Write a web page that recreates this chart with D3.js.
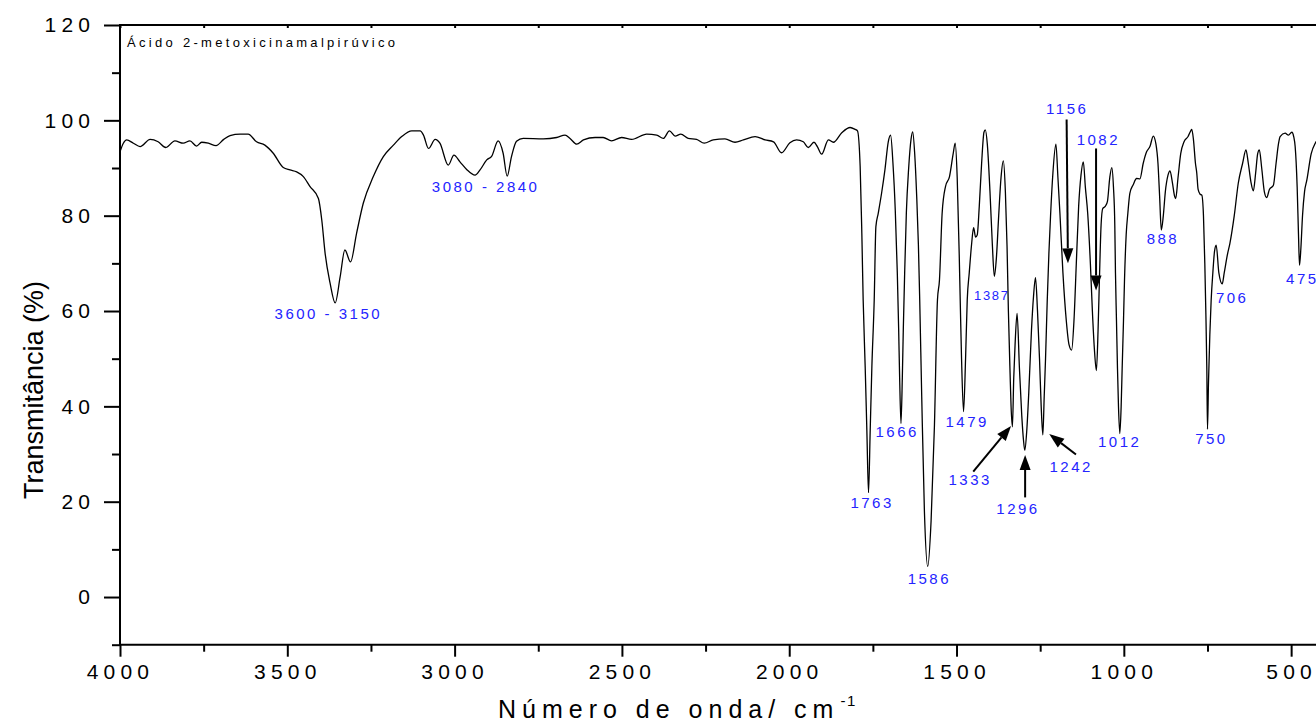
<!DOCTYPE html>
<html>
<head>
<meta charset="utf-8">
<script src="https://cdn.jsdelivr.net/npm/d3@7"></script>
<style>
  html, body { margin: 0; padding: 0; background: #fff; }
  svg { display: block; }
  text { font-family: "Liberation Sans", Arial, sans-serif; }
</style>
</head>
<body>
<svg id="chart" width="1316" height="724"></svg>
<script>
// IR spectrum of ácido 2-metoxicinamalpirúvico (transmittance vs wavenumber)
const wavenumber = [
  4000, 3990, 3980, 3960, 3940, 3910, 3886, 3863, 3836, 3811, 3791, 3771, 3756, 3736, 3713, 3690,
  3671, 3641, 3617, 3592, 3567, 3542, 3512, 3492, 3472, 3452, 3432, 3407, 3397, 3387, 3372, 3357,
  3342, 3328, 3311, 3293, 3273, 3243, 3213, 3183, 3158, 3128, 3103, 3093, 3078, 3058, 3044, 3019,
  3002, 2984, 2964, 2939, 2924, 2904, 2889, 2870, 2855, 2843, 2830, 2815, 2795, 2735, 2695, 2670,
  2655, 2635, 2615, 2580, 2556, 2531, 2501, 2471, 2426, 2396, 2376, 2358, 2341, 2324, 2302, 2277,
  2254, 2227, 2192, 2162, 2137, 2102, 2072, 2047, 2023, 1998, 1978, 1958, 1943, 1926, 1916, 1903,
  1883, 1868, 1843, 1818, 1803, 1796, 1788, 1783, 1779, 1773, 1768, 1763, 1758, 1753, 1746, 1741,
  1734, 1724, 1714, 1704, 1697, 1690, 1683, 1677, 1673, 1670, 1666, 1662, 1659, 1655, 1650, 1643,
  1636, 1631, 1625, 1619, 1614, 1610, 1604, 1596, 1586, 1576, 1566, 1557, 1551, 1543, 1533, 1521,
  1510, 1504, 1498, 1492, 1489, 1485, 1479, 1473, 1468, 1462, 1455, 1449, 1443, 1438, 1432, 1425,
  1418, 1414, 1408, 1400, 1393, 1387, 1381, 1374, 1367, 1360, 1354, 1349, 1345, 1340, 1337, 1333,
  1329, 1325, 1319, 1312, 1305, 1300, 1296, 1290, 1284, 1276, 1270, 1264, 1258, 1252, 1247, 1242,
  1238, 1234, 1229, 1224, 1219, 1212, 1203, 1197, 1191, 1182, 1172, 1164, 1156, 1149, 1142, 1135,
  1128, 1121, 1115, 1108, 1100, 1094, 1088, 1082, 1077, 1073, 1068, 1063, 1055, 1049, 1042, 1036,
  1031, 1027, 1025, 1022, 1019, 1016, 1012, 1008, 1005, 1001, 998, 993, 988, 982, 972, 962,
  952, 942, 932, 922, 912, 904, 898, 893, 888, 882, 876, 868, 862, 855, 848, 845,
  838, 830, 820, 808, 800, 797, 792, 786, 782, 778, 772, 767, 762, 758, 755, 752,
  750, 747, 743, 739, 734, 729, 724, 716, 706, 700, 690, 683, 670, 658, 645, 635,
  628, 620, 613, 606, 600, 595, 588, 580, 573, 565, 553, 545, 538, 533, 518, 508,
  498, 492, 488, 482, 478, 475, 471, 466, 460, 453, 440, 428, 415, 400
];
const transmittance = [
  93.4, 95.2, 95.9, 95.2, 94.5, 96.0, 95.5, 94.3, 95.7, 95.2, 95.7, 94.6, 95.4, 95.2, 94.7, 96.0,
  96.8, 97.1, 97.1, 95.5, 94.8, 93.1, 90.1, 89.6, 89.2, 88.2, 86.1, 83.6, 79.1, 72.1, 65.8, 61.7,
  67.2, 72.8, 70.3, 76.3, 82.6, 88.2, 92.4, 94.8, 96.6, 97.8, 97.8, 96.9, 94.1, 96.0, 95.2, 90.6,
  92.7, 91.3, 89.7, 88.5, 89.6, 91.7, 92.5, 95.7, 93.1, 88.3, 92.4, 95.6, 96.2, 96.1, 96.4, 96.9,
  96.2, 95.0, 95.9, 96.4, 96.4, 95.7, 96.4, 96.0, 97.1, 96.9, 96.2, 97.8, 96.7, 97.1, 96.2, 96.0,
  95.2, 95.9, 96.1, 95.4, 95.9, 96.6, 95.9, 95.5, 93.2, 95.3, 95.9, 95.5, 94.3, 95.4, 94.5, 92.9,
  95.9, 95.4, 97.4, 98.5, 98.1, 97.8, 90.3, 76.3, 62.3, 48.3, 35.0, 21.9, 35.0, 48.3, 62.3, 77.7,
  80.5, 84.7, 89.6, 95.5, 96.9, 91.0, 81.0, 68.0, 56.4, 46.0, 36.4, 46.0, 56.4, 68.0, 80.5, 90.0,
  96.0, 97.6, 93.0, 84.0, 74.0, 62.3, 42.0, 18.0, 6.4, 16.0, 36.0, 62.3, 66.5, 80.5, 86.1, 88.2,
  93.0, 95.2, 88.0, 72.0, 62.3, 50.0, 38.9, 50.0, 62.3, 68.0, 74.0, 77.5, 75.5, 76.0, 82.0, 91.0,
  97.5, 98.0, 95.0, 85.0, 74.0, 67.3, 71.0, 80.0, 88.0, 91.5, 85.0, 73.5, 60.0, 47.0, 40.0, 35.7,
  46.0, 53.0, 59.5, 48.0, 38.0, 33.0, 30.8, 35.0, 43.0, 56.0, 63.0, 67.0, 60.0, 50.0, 40.0, 34.0,
  42.0, 50.0, 62.0, 72.0, 80.0, 88.9, 95.0, 88.0, 80.5, 68.0, 58.0, 53.0, 51.8, 58.0, 70.0, 82.0,
  88.5, 91.3, 86.0, 80.5, 70.0, 60.0, 52.0, 47.5, 56.0, 66.5, 78.0, 81.5, 82.0, 83.0, 88.0, 90.1,
  86.0, 78.0, 68.0, 58.0, 48.0, 40.0, 34.3, 40.0, 48.0, 58.0, 66.5, 76.0, 80.5, 84.7, 86.5, 87.8,
  87.7, 91.0, 93.4, 94.5, 96.7, 95.0, 91.0, 84.0, 77.0, 80.0, 85.0, 88.5, 89.4, 87.0, 84.0, 83.6,
  88.0, 93.0, 95.5, 96.6, 97.8, 98.1, 96.0, 91.0, 88.9, 85.5, 84.5, 84.3, 80.0, 70.0, 60.0, 48.0,
  35.2, 45.0, 55.0, 62.3, 68.0, 72.5, 73.8, 68.0, 65.7, 68.0, 72.0, 74.2, 80.0, 86.8, 91.0, 93.8,
  91.0, 87.0, 85.2, 89.0, 93.0, 93.8, 90.0, 85.0, 83.8, 85.5, 86.4, 91.0, 95.0, 96.6, 97.3, 96.9,
  97.5, 96.5, 94.5, 86.0, 76.0, 69.6, 73.0, 80.0, 85.0, 87.5, 93.0, 95.2, 96.2, 96.5
];

const xMajorTicks = [4000, 3500, 3000, 2500, 2000, 1500, 1000, 500];
const xMinorTicks = [3750, 3250, 2750, 2250, 1750, 1250, 750];
const xTopTicks = d3.range(4000, 399, -250);
const yMajorTicks = [0, 20, 40, 60, 80, 100, 120];
const yMinorTicks = [-10, 10, 30, 50, 70, 90, 110];

const chartTitle = "Ácido 2-metoxicinamalpirúvico";
const xTitle = "Número de onda/ cm";
const xTitleSup = "-1";
const yTitle = "Transmitância (%)";

// band labels: text and the (wavenumber, %T) point where each label sits
const bandText = ["3600 - 3150", "3080 - 2840", "1763", "1666", "1586", "1479", "1387", "1333",
                  "1296", "1242", "1156", "1082", "1012", "888", "750", "706", "475"];
const bandAtWave = [3381, 2911, 1756, 1681, 1585, 1472, 1397, 1463,
                    1320, 1161, 1173, 1080, 1016, 887, 742, 680, 515];
const bandAtT = [58.3, 85.0, 18.7, 33.6, 2.7, 35.7, 62.3, 23.5,
                 17.4, 26.2, 101.3, 94.8, 31.5, 74.1, 32.1, 61.7, 65.7];

// arrows pointing at bands: [from wavenumber, from %T, to wavenumber, to %T]
const arrowFrom = [[1171, 100.2], [1083, 94.1], [1450, 26.3], [1295, 20.9], [1143, 29.9]];
const arrowTo   = [[1167, 70.0],  [1083, 64.3], [1337, 35.9], [1295, 29.8], [1223, 34.2]];

const svg = d3.select("#chart");
const x = d3.scaleLinear().domain([4000, 400]).range([120, 1324.6]);
const y = d3.scaleLinear().domain([-10, 120]).range([644.7, 25]);

const FONT = '"Liberation Sans", Arial, sans-serif';
const BLUE = "#2424ff";

// frame lines (left, bottom, top)
const frame = svg.append("g").attr("stroke", "#000").attr("stroke-width", 2).attr("stroke-linecap", "square");
frame.append("line").attr("x1", x(4000)).attr("x2", x(4000)).attr("y1", y(120)).attr("y2", y(-10));
frame.append("line").attr("x1", x(4000)).attr("x2", x(400)).attr("y1", y(-10)).attr("y2", y(-10));
frame.append("line").attr("x1", x(4000)).attr("x2", x(400)).attr("y1", y(120)).attr("y2", y(120));

function styleAxis(g) {
  g.select(".domain").remove();
  g.selectAll(".tick line").attr("stroke", "#000").attr("stroke-width", 2);
  g.attr("font-family", null).attr("font-size", null);
}

// bottom axis
const TICK_LS = 5.2;
svg.append("g").attr("transform", `translate(0,${y(-10)})`)
  .call(d3.axisBottom(x).tickValues(xMajorTicks).tickSize(12).tickPadding(7).tickFormat(d3.format("d")))
  .call(styleAxis)
  .call(g => g.selectAll("text")
    .attr("font-family", FONT).attr("font-size", 21).attr("fill", "#000")
    .style("letter-spacing", TICK_LS + "px"));
svg.append("g").attr("transform", `translate(0,${y(-10)})`)
  .call(d3.axisBottom(x).tickValues(xMinorTicks).tickSize(7).tickFormat(""))
  .call(styleAxis);

// top axis: short inward ticks
svg.append("g").attr("transform", `translate(0,${y(120)})`)
  .call(d3.axisBottom(x).tickValues(xTopTicks).tickSize(3).tickFormat(""))
  .call(styleAxis);

// left axis
svg.append("g").attr("transform", `translate(${x(4000)},0)`)
  .call(d3.axisLeft(y).tickValues(yMajorTicks).tickSize(16).tickPadding(14 - TICK_LS).tickFormat(d3.format("d")))
  .call(styleAxis)
  .call(g => g.selectAll("text")
    .attr("font-family", FONT).attr("font-size", 21).attr("fill", "#000")
    .style("letter-spacing", TICK_LS + "px"));
svg.append("g").attr("transform", `translate(${x(4000)},0)`)
  .call(d3.axisLeft(y).tickValues(yMinorTicks).tickSize(8).tickFormat(""))
  .call(styleAxis);

// spectrum trace
const points = d3.zip(wavenumber, transmittance);
svg.append("path")
  .datum(points)
  .attr("fill", "none")
  .attr("stroke", "#000")
  .attr("stroke-width", 1.3)
  .attr("stroke-linejoin", "round")
  .attr("d", d3.line().x(d => x(d[0])).y(d => y(d[1])).curve(d3.curveMonotoneX));

// chart title inside the frame
svg.append("text")
  .attr("x", 127).attr("y", 47)
  .attr("font-family", FONT).attr("font-size", 13).attr("fill", "#000")
  .style("letter-spacing", "3.3px")
  .text(chartTitle);

// axis titles
const xt = svg.append("text")
  .attr("x", 498).attr("y", 718)
  .attr("font-family", FONT).attr("font-size", 25).attr("fill", "#000")
  .style("letter-spacing", "6px")
  .text(xTitle);
const xtLen = xt.node().getComputedTextLength();
svg.append("text")
  .attr("x", 498 + xtLen + 1).attr("y", 706)
  .attr("font-family", FONT).attr("font-size", 15).attr("fill", "#000")
  .style("letter-spacing", "1.5px")
  .text(xTitleSup);

svg.append("text")
  .attr("transform", "translate(43,390) rotate(-90)")
  .attr("text-anchor", "middle")
  .attr("font-family", FONT).attr("font-size", 27).attr("fill", "#000")
  .text(yTitle);

// band labels
const bands = bandText.map((t, i) => ({ t, w: bandAtWave[i], v: bandAtT[i] }));
svg.append("g").selectAll("text")
  .data(bands)
  .join("text")
  .attr("x", d => x(d.w)).attr("y", d => y(d.v))
  .attr("text-anchor", d => d.t === "475" ? "start" : "middle")
  .attr("font-family", FONT)
  .attr("font-size", d => d.t === "1387" ? 13 : 15)
  .attr("fill", BLUE)
  .style("letter-spacing", d => d.t === "1387" ? "1.7px" : "2.5px")
  .attr("dx", d => d.t === "475" ? 0 : (d.t === "1387" ? 0.85 : 1.25))
  .text(d => d.t);

// arrows
const HEAD_LEN = 15, HEAD_HALF = 5.5;
const ag = svg.append("g");
arrowFrom.forEach((f, i) => {
  const t = arrowTo[i];
  const x1 = x(f[0]), y1 = y(f[1]), x2 = x(t[0]), y2 = y(t[1]);
  const dx = x2 - x1, dy = y2 - y1, len = Math.hypot(dx, dy);
  const ux = dx / len, uy = dy / len;
  const bx = x2 - ux * HEAD_LEN, by = y2 - uy * HEAD_LEN;
  ag.append("line").attr("x1", x1).attr("y1", y1).attr("x2", bx).attr("y2", by)
    .attr("stroke", "#000").attr("stroke-width", 2);
  ag.append("polygon")
    .attr("points", [[x2, y2], [bx - uy * HEAD_HALF, by + ux * HEAD_HALF], [bx + uy * HEAD_HALF, by - ux * HEAD_HALF]].map(p => p.join(",")).join(" "))
    .attr("fill", "#000");
});
</script>
</body>
</html>
